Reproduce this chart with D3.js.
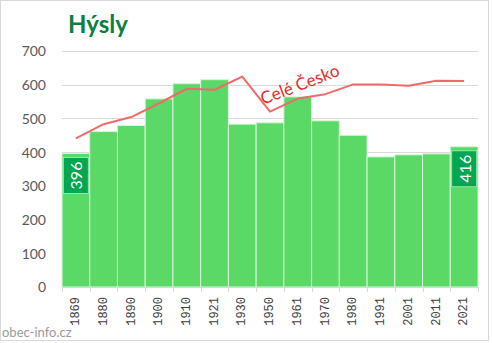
<!DOCTYPE html>
<html><head><meta charset="utf-8">
<script src="https://cdn.jsdelivr.net/npm/d3@7"></script>
<style>html,body{margin:0;padding:0;background:#fff}svg{display:block}</style>
</head><body>
<svg id="c" width="492" height="343"></svg>
<script>
const years = ["1869","1880","1890","1900","1910","1921","1930","1950","1961","1970","1980","1991","2001","2011","2021"];
const population = [396,461,479,558,603,615,483,487,564,493,450,386,392,395,416];
const czechScaled = [441,483,504,545,588,585,624,520,559,572,601,601,597,612,611];
const yTicks = [0,100,200,300,400,500,600,700];
const title = "Hýsly";
const lineLabel = "Celé Česko";
const watermark = "obec-info.cz";

const svg = d3.select("#c");
const pLeft = 62, pRight = 478, pTop = 51, pBottom = 287;

svg.append("rect").attr("x",0.5).attr("y",0.5).attr("width",488).attr("height",340)
  .attr("fill","#fff").attr("stroke","#d9d9d9");

const x = d3.scaleBand().domain(years).range([pLeft,pRight]).padding(0);
const y = d3.scaleLinear().domain([0,700]).range([pBottom,pTop]);

// gridlines
svg.append("g").selectAll("line").data(yTicks.filter(d=>d>0)).join("line")
  .attr("x1",pLeft).attr("x2",pRight).attr("y1",d=>Math.round(y(d))+0.5).attr("y2",d=>Math.round(y(d))+0.5)
  .attr("stroke","#d9d9d9").attr("stroke-width",1);

// y axis labels
const yAxis = d3.axisLeft(y).tickValues(yTicks).tickSize(0).tickPadding(0);
const gy = svg.append("g").attr("transform",`translate(46,0)`).call(yAxis);
gy.select(".domain").remove();
gy.selectAll("text").attr("font-family","Lato, 'Open Sans', sans-serif").attr("font-size",14).attr("fill","#595959").attr("dy","0.35em");

// bars
svg.append("g").selectAll("rect").data(years).join("rect")
  .attr("x",d=>x(d)).attr("y",(d,i)=>y(population[i]))
  .attr("width",x.bandwidth()).attr("height",(d,i)=>pBottom-y(population[i]))
  .attr("fill","#5ad966").attr("stroke","#d8f5da").attr("stroke-width",1);

// x axis
const xAxis = d3.axisBottom(x).tickSize(0).tickPadding(0);
const gx = svg.append("g").attr("transform",`translate(0,${pBottom})`).call(xAxis);
gx.select(".domain").attr("stroke","#d9d9d9");
gx.selectAll("text").attr("font-family","'Liberation Mono', monospace").attr("font-size",12).attr("fill","#404040")
  .attr("transform","rotate(-90)").attr("text-anchor","end").attr("x",-10).attr("y",-1).attr("dy","0.35em");
// boundary tick marks
const bounds = years.map(d=>x(d)).concat([pRight]);
svg.append("g").selectAll("line").data(bounds).join("line")
  .attr("x1",d=>Math.round(d)+0.5).attr("x2",d=>Math.round(d)+0.5).attr("y1",pBottom).attr("y2",pBottom+5)
  .attr("stroke","#d9d9d9");

// line
const line = d3.line().x((d,i)=>x(years[i])+x.bandwidth()/2).y(d=>y(d));
svg.append("path").datum(czechScaled).attr("d",line).attr("fill","none")
  .attr("stroke","#f06a6a").attr("stroke-width",2).attr("stroke-linejoin","round");

svg.append("text").attr("transform","translate(302,90) rotate(-21)")
  .attr("text-anchor","middle").attr("font-family","Lato, sans-serif").attr("font-size",17)
  .attr("fill","#e32b2b").text(lineLabel);

// value labels
[0, years.length-1].forEach(i=>{
  const cx = x(years[i]) + x.bandwidth()/2;
  const topY = y(population[i]) + 4;
  const bw = 25, bh = 36;
  svg.append("rect").attr("x",cx-bw/2).attr("y",topY).attr("width",bw).attr("height",bh)
    .attr("fill","#00a650").attr("stroke","#9fe3a8").attr("stroke-width",1);
  svg.append("text").attr("transform",`translate(${cx+1},${topY+bh/2}) rotate(-90)`)
    .attr("text-anchor","middle").attr("dy","0.35em").attr("font-family","Lato, sans-serif")
    .attr("font-size",16).attr("fill","#fff").text(population[i]);
});

// title
svg.append("text").attr("x",68).attr("y",33).attr("font-family","Lato, sans-serif").attr("font-weight","bold")
  .attr("font-size",24).attr("fill","#0b8040").text(title);

svg.append("text").attr("x",2).attr("y",337).attr("font-family","Lato, sans-serif")
  .attr("font-size",13).attr("fill","#9a9a9a").text(watermark);
</script>
</body></html>
